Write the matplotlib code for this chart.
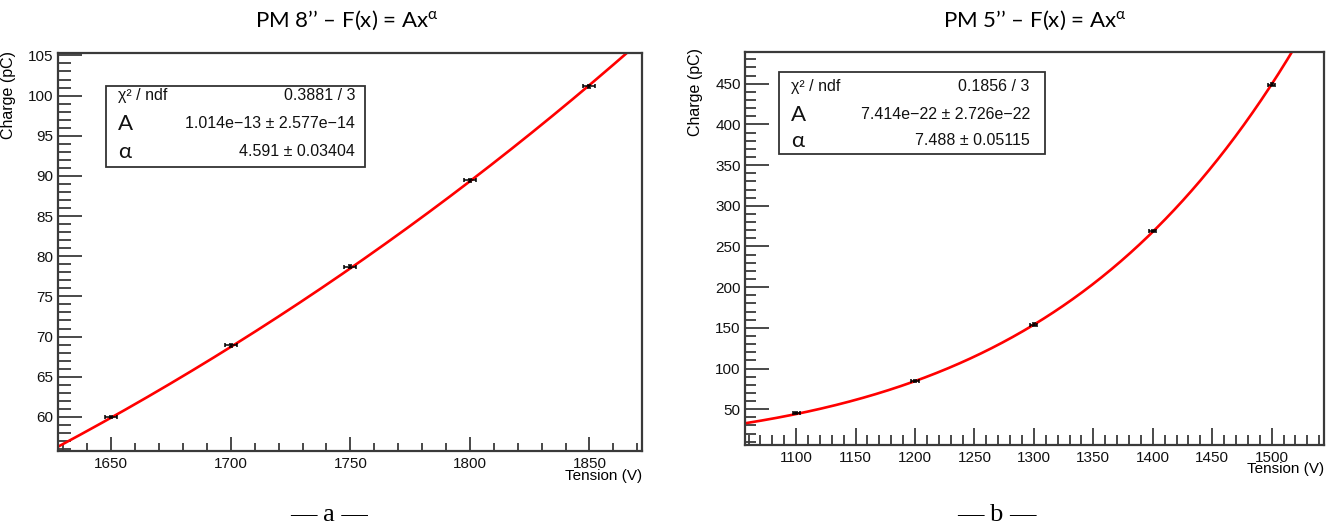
import numpy as np
import matplotlib
matplotlib.use("Agg")
import matplotlib.pyplot as plt
from matplotlib.ticker import MultipleLocator
from matplotlib.patches import Rectangle

plt.rcParams['font.family'] = ['Liberation Sans', 'DejaVu Sans']
plt.rcParams['mathtext.fontset'] = 'custom'
plt.rcParams['mathtext.rm'] = 'Lato'
plt.rcParams['mathtext.it'] = 'Lato:italic'

# PM 8'' data
pm8_tension = [1650, 1700, 1750, 1800, 1850]
pm8_charge = [59.95, 68.9, 78.7, 89.45, 101.15]
pm8_tension_err = [2.5, 2.5, 2.5, 2.5, 2.5]
pm8_charge_err = [0.15, 0.15, 0.15, 0.15, 0.15]
pm8_fit = {'A': 1.014e-13, 'alpha': 4.591}
pm8_stats = ["0.3881 / 3", "1.014e\u221213 \u00b1 2.577e\u221214", "4.591 \u00b1 0.03404"]

# PM 5'' data
pm5_tension = [1100, 1200, 1300, 1400, 1500]
pm5_charge = [45, 85, 154, 269, 449]
pm5_tension_err = [3, 3, 3, 3, 3]
pm5_charge_err = [1.5, 1.5, 1.5, 1.5, 1.5]
pm5_fit = {'A': 7.414e-22, 'alpha': 7.488}
pm5_stats = ["0.1856 / 3", "7.414e\u221222 \u00b1 2.726e\u221222", "7.488 \u00b1 0.05115"]

W, H = 1333, 529
fig = plt.figure(figsize=(W / 100, H / 100), dpi=100)


def px_axes(x0, x1, ytop, ybot):
    return fig.add_axes([x0 / W, 1 - ybot / H, (x1 - x0) / W, (ybot - ytop) / H])


def draw_panel(ax, x, y, xe, ye, fit, stats, xlim, ylim, xmaj, ymaj,
               xlen, ylen, box, rows):
    axc = '#3a3a3a'
    for s in ax.spines.values():
        s.set_color(axc)
        s.set_linewidth(1.6)
    ax.set_xlim(*xlim)
    ax.set_ylim(*ylim)
    ax.xaxis.set_major_locator(MultipleLocator(xmaj))
    ax.xaxis.set_minor_locator(MultipleLocator(xmaj / 5))
    ax.yaxis.set_major_locator(MultipleLocator(ymaj))
    ax.yaxis.set_minor_locator(MultipleLocator(ymaj / 5))
    ax.tick_params(which='both', direction='in', color=axc, width=1.3,
                   labelsize=11, labelcolor='#111111', top=False, right=False)
    ax.tick_params(axis='x', which='major', length=xlen[0], pad=4)
    ax.tick_params(axis='x', which='minor', length=xlen[1])
    ax.tick_params(axis='y', which='major', length=ylen[0], pad=3)
    ax.tick_params(axis='y', which='minor', length=ylen[1])

    # fit curve
    xf = np.linspace(xlim[0], xlim[1], 600)
    ax.plot(xf, fit['A'] * xf ** fit['alpha'], color='#ff0000', lw=1.9, zorder=2)
    ax.errorbar(x, y, xerr=xe, yerr=ye, fmt='none', ecolor='black',
                elinewidth=1.1, capsize=1.6, capthick=1.1, zorder=3)

    # stats box
    bx0, bx1, by0, by1 = box
    ax.add_patch(Rectangle((bx0, by0), bx1 - bx0, by1 - by0, transform=ax.transAxes,
                           facecolor='white', edgecolor='#333333', lw=1.3, zorder=4))
    lx, rx, ry = rows
    labels = [("\u03c7\u00b2 / ndf", 11.5, 'Liberation Sans'), ("A", 16, 'Lato'),
              ("\u03b1", 16, 'Lato')]
    for (lab, fs, fam), val, yy in zip(labels, stats, ry):
        ax.text(lx, yy, lab, transform=ax.transAxes, fontsize=fs, family=[fam, 'DejaVu Sans'],
                ha='left', va='center', zorder=5, color='#111111')
        ax.text(rx, yy, val, transform=ax.transAxes, fontsize=11.5,
                ha='right', va='center', zorder=5, color='#111111')


# left panel: PM 8''
ax1 = px_axes(57.5, 642, 53, 451)
draw_panel(ax1, pm8_tension, pm8_charge, pm8_tension_err, pm8_charge_err, pm8_fit,
           pm8_stats, (1627.5, 1872), (55.75, 105.3), 50, 5,
           (10, 6), (17, 9),
           (0.083, 0.526, 0.714, 0.917), (0.104, 0.509, [0.892, 0.822, 0.752]))
ax1.set_ylabel("Charge (pC)", fontsize=11.5, loc='top')
ax1.yaxis.set_label_coords(-0.071, 1.005)
ax1.set_xlabel("Tension (V)", fontsize=11, loc='right')
ax1.xaxis.set_label_coords(1.0, -0.046)

# right panel: PM 5''
ax2 = px_axes(745, 1324, 52, 445)
draw_panel(ax2, pm5_tension, pm5_charge, pm5_tension_err, pm5_charge_err, pm5_fit,
           pm5_stats, (1057, 1544), (6, 489), 50, 50,
           (12, 7), (17, 8),
           (0.0587, 0.518, 0.740, 0.949), (0.0794, 0.492, [0.911, 0.840, 0.774]))
ax2.set_ylabel("Charge (pC)", fontsize=11.5, loc='top')
ax2.yaxis.set_label_coords(-0.0725, 1.01)
ax2.set_xlabel("Tension (V)", fontsize=11, loc='right')
ax2.xaxis.set_label_coords(1.0, -0.044)

# panel titles
fig.text(347 / W, 1 - 20 / H, "PM 8\u2019\u2019 \u2013 F(x) = Ax$^{\\mathrm{\u03b1}}$",
         family='Lato', fontsize=16, ha='center', va='center')
fig.text(1035 / W, 1 - 20 / H, "PM 5\u2019\u2019 \u2013 F(x) = Ax$^{\\mathrm{\u03b1}}$",
         family='Lato', fontsize=16, ha='center', va='center')

# sub captions
fig.text(329 / W, 1 - 515 / H, "\u2014 a \u2014", family='Liberation Serif',
         fontsize=19, ha='center', va='center')
fig.text(997 / W, 1 - 515 / H, "\u2014 b \u2014", family='Liberation Serif',
         fontsize=19, ha='center', va='center')

fig.savefig("out.png", dpi=100, facecolor='white')
